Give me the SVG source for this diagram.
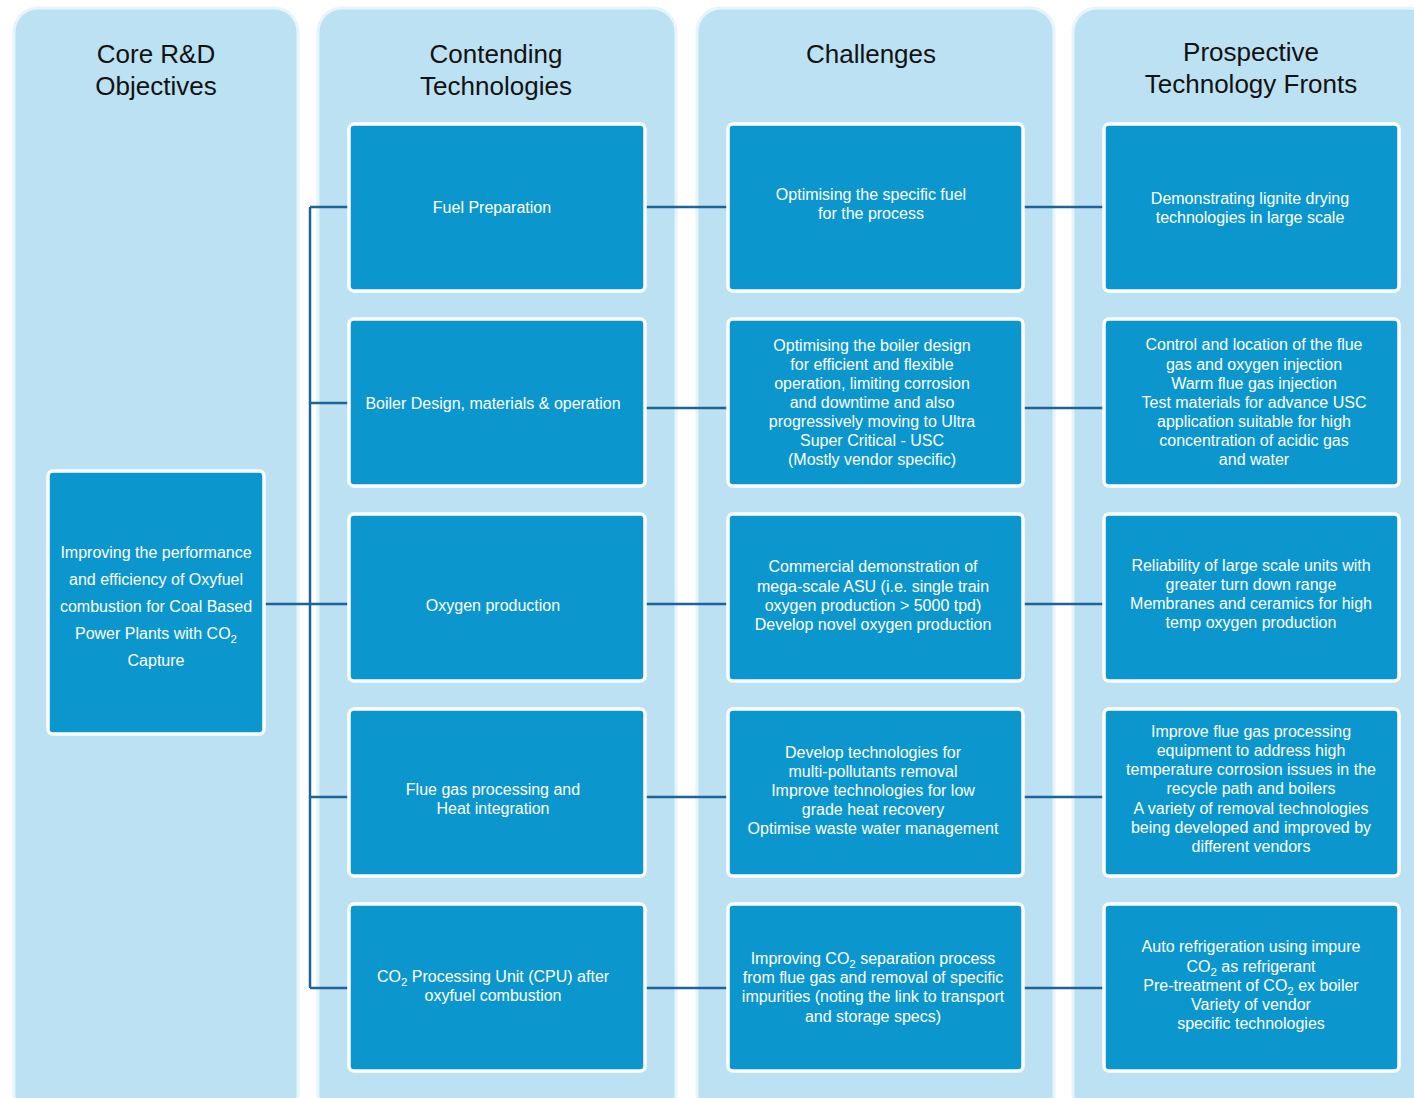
<svg xmlns="http://www.w3.org/2000/svg" width="1414" height="1098" viewBox="0 0 1414 1098">
<defs>
<style>
.panel{fill:#bbe1f2;stroke:#e6f4fb;stroke-width:3}
.node{fill:#0b97cd;stroke:#ffffff;stroke-width:3.5}
.hdr{font-family:"Liberation Sans",Arial,sans-serif;font-size:26px;fill:#121212;text-anchor:middle}
.t{font-family:"Liberation Sans",Arial,sans-serif;font-size:16px;fill:#ffffff;text-anchor:middle}
.sub{font-size:11.5px}
.conn{stroke:#1d6598;stroke-width:2.5;fill:none}
</style>
</defs>
<rect width="1414" height="1098" fill="#ffffff"/>
<g id="panels">
<rect class="panel" x="14" y="8" width="284" height="1110" rx="24"/>
<rect class="panel" x="318" y="8" width="358" height="1110" rx="24"/>
<rect class="panel" x="697" y="8" width="357" height="1110" rx="24"/>
<rect class="panel" x="1073" y="8" width="360" height="1110" rx="24"/>
</g>
<g id="headers">
<text class="hdr" x="156" y="63">Core R&amp;D</text>
<text class="hdr" x="156" y="95">Objectives</text>
<text class="hdr" x="496" y="63">Contending</text>
<text class="hdr" x="496" y="95">Technologies</text>
<text class="hdr" x="871" y="63">Challenges</text>
<text class="hdr" x="1251" y="61">Prospective</text>
<text class="hdr" x="1251" y="93">Technology Fronts</text>
</g>
<g id="connectors">
<line class="conn" x1="310" y1="207" x2="310" y2="988"/>
<line class="conn" x1="265" y1="604" x2="348" y2="604"/>
<line class="conn" x1="310" y1="207" x2="348" y2="207"/>
<line class="conn" x1="310" y1="403" x2="348" y2="403"/>
<line class="conn" x1="310" y1="797" x2="348" y2="797"/>
<line class="conn" x1="310" y1="988" x2="348" y2="988"/>
<line class="conn" x1="646" y1="207" x2="727" y2="207"/>
<line class="conn" x1="646" y1="408" x2="727" y2="408"/>
<line class="conn" x1="646" y1="604" x2="727" y2="604"/>
<line class="conn" x1="646" y1="797" x2="727" y2="797"/>
<line class="conn" x1="646" y1="988" x2="727" y2="988"/>
<line class="conn" x1="1024" y1="207" x2="1103" y2="207"/>
<line class="conn" x1="1024" y1="408" x2="1103" y2="408"/>
<line class="conn" x1="1024" y1="604" x2="1103" y2="604"/>
<line class="conn" x1="1024" y1="797" x2="1103" y2="797"/>
<line class="conn" x1="1024" y1="988" x2="1103" y2="988"/>
</g>
<g id="objective">
<rect class="node" x="48" y="471" width="216" height="263" rx="5"/>
<text class="t" x="156" y="558">Improving the performance</text>
<text class="t" x="156" y="585">and efficiency of Oxyfuel</text>
<text class="t" x="156" y="612">combustion for Coal Based</text>
<text class="t" x="156" y="639">Power Plants with CO<tspan class="sub" dy="4">2</tspan></text>
<text class="t" x="156" y="666">Capture</text>
</g>
<g id="tech-fuel">
<rect class="node" x="349" y="124" width="296" height="167" rx="5"/>
<text class="t" x="492" y="213">Fuel Preparation</text>
</g>
<g id="tech-boiler">
<rect class="node" x="349" y="319" width="296" height="167" rx="5"/>
<text class="t" x="493" y="409">Boiler Design, materials &amp; operation</text>
</g>
<g id="tech-oxygen">
<rect class="node" x="349" y="514" width="296" height="167" rx="5"/>
<text class="t" x="493" y="611">Oxygen production</text>
</g>
<g id="tech-flue">
<rect class="node" x="349" y="709" width="296" height="167" rx="5"/>
<text class="t" x="493" y="795">Flue gas processing and</text>
<text class="t" x="493" y="814">Heat integration</text>
</g>
<g id="tech-cpu">
<rect class="node" x="349" y="904" width="296" height="167" rx="5"/>
<text class="t" x="493" y="982">CO<tspan class="sub" dy="4">2</tspan><tspan dy="-4"> Processing Unit (CPU) after</tspan></text>
<text class="t" x="493" y="1001">oxyfuel combustion</text>
</g>
<g id="ch-fuel">
<rect class="node" x="728" y="124" width="295" height="167" rx="5"/>
<text class="t" x="871" y="200">Optimising the specific fuel</text>
<text class="t" x="871" y="219">for the process</text>
</g>
<g id="ch-boiler">
<rect class="node" x="728" y="319" width="295" height="167" rx="5"/>
<text class="t" x="872" y="351">Optimising the boiler design</text>
<text class="t" x="872" y="370">for efficient and flexible</text>
<text class="t" x="872" y="389">operation, limiting corrosion</text>
<text class="t" x="872" y="408">and downtime and also</text>
<text class="t" x="872" y="427">progressively moving to Ultra</text>
<text class="t" x="872" y="446">Super Critical - USC</text>
<text class="t" x="872" y="465">(Mostly vendor specific)</text>
</g>
<g id="ch-oxygen">
<rect class="node" x="728" y="514" width="295" height="167" rx="5"/>
<text class="t" x="873" y="572">Commercial demonstration of</text>
<text class="t" x="873" y="592">mega-scale ASU (i.e. single train</text>
<text class="t" x="873" y="611">oxygen production &gt; 5000 tpd)</text>
<text class="t" x="873" y="630">Develop novel oxygen production</text>
</g>
<g id="ch-flue">
<rect class="node" x="728" y="709" width="295" height="167" rx="5"/>
<text class="t" x="873" y="758">Develop technologies for</text>
<text class="t" x="873" y="777">multi-pollutants removal</text>
<text class="t" x="873" y="796">Improve technologies for low</text>
<text class="t" x="873" y="815">grade heat recovery</text>
<text class="t" x="873" y="834">Optimise waste water management</text>
</g>
<g id="ch-cpu">
<rect class="node" x="728" y="904" width="295" height="167" rx="5"/>
<text class="t" x="873" y="964">Improving CO<tspan class="sub" dy="4">2</tspan><tspan dy="-4"> separation process</tspan></text>
<text class="t" x="873" y="983">from flue gas and removal of specific</text>
<text class="t" x="873" y="1002">impurities (noting the link to transport</text>
<text class="t" x="873" y="1022">and storage specs)</text>
</g>
<g id="front-fuel">
<rect class="node" x="1104" y="124" width="295" height="167" rx="5"/>
<text class="t" x="1250" y="204">Demonstrating lignite drying</text>
<text class="t" x="1250" y="223">technologies in large scale</text>
</g>
<g id="front-boiler">
<rect class="node" x="1104" y="319" width="295" height="167" rx="5"/>
<text class="t" x="1254" y="350">Control and location of the flue</text>
<text class="t" x="1254" y="370">gas and oxygen injection</text>
<text class="t" x="1254" y="389">Warm flue gas injection</text>
<text class="t" x="1254" y="408">Test materials for advance USC</text>
<text class="t" x="1254" y="427">application suitable for high</text>
<text class="t" x="1254" y="446">concentration of acidic gas</text>
<text class="t" x="1254" y="465">and water</text>
</g>
<g id="front-oxygen">
<rect class="node" x="1104" y="514" width="295" height="167" rx="5"/>
<text class="t" x="1251" y="571">Reliability of large scale units with</text>
<text class="t" x="1251" y="590">greater turn down range</text>
<text class="t" x="1251" y="609">Membranes and ceramics for high</text>
<text class="t" x="1251" y="628">temp oxygen production</text>
</g>
<g id="front-flue">
<rect class="node" x="1104" y="709" width="295" height="167" rx="5"/>
<text class="t" x="1251" y="737">Improve flue gas processing</text>
<text class="t" x="1251" y="756">equipment to address high</text>
<text class="t" x="1251" y="775">temperature corrosion issues in the</text>
<text class="t" x="1251" y="794">recycle path and boilers</text>
<text class="t" x="1251" y="814">A variety of removal technologies</text>
<text class="t" x="1251" y="833">being developed and improved by</text>
<text class="t" x="1251" y="852">different vendors</text>
</g>
<g id="front-cpu">
<rect class="node" x="1104" y="904" width="295" height="167" rx="5"/>
<text class="t" x="1251" y="952">Auto refrigeration using impure</text>
<text class="t" x="1251" y="972">CO<tspan class="sub" dy="4">2</tspan><tspan dy="-4"> as refrigerant</tspan></text>
<text class="t" x="1251" y="991">Pre-treatment of CO<tspan class="sub" dy="4">2</tspan><tspan dy="-4"> ex boiler</tspan></text>
<text class="t" x="1251" y="1010">Variety of vendor</text>
<text class="t" x="1251" y="1029">specific technologies</text>
</g>
</svg>
